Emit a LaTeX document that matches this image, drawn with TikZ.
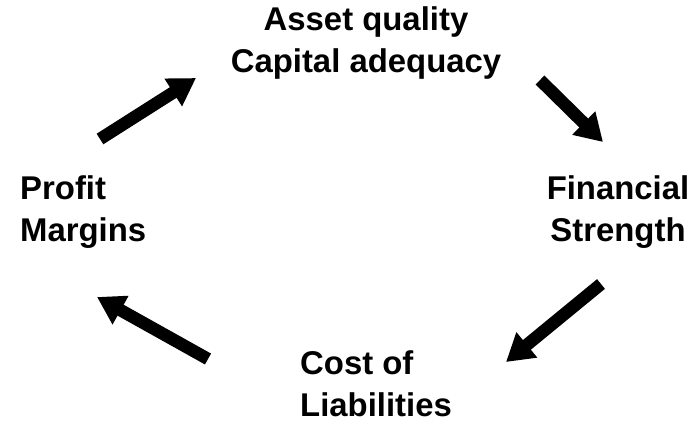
\documentclass[tikz,border=0pt]{standalone}
\usepackage{fontspec}
\setmainfont{Liberation Sans}
\usetikzlibrary{arrows.meta}
\begin{document}
\begin{tikzpicture}[x=1bp,y=-1bp,
  label/.style={font=\bfseries\fontsize{33}{42}\selectfont, inner sep=0pt},
  fatarrow/.style={line width=12.5bp, -{Triangle[length=27bp,width=31bp]}}]
  \useasboundingbox[fill=white] (0,0) rectangle (691,426);

  \node[label, align=center] (quality) at (366,43) {Asset quality\\Capital adequacy};
  \node[label, align=center] (strength) at (618,212) {Financial\\Strength};
  \node[label, align=left, anchor=west] (margins) at (20,212) {Profit\\Margins};
  \node[label, align=left, anchor=west] (liab) at (300,384) {Cost of\\Liabilities};

  \coordinate (a1s) at (100,139);  \coordinate (a1e) at (196,78);
  \coordinate (a2s) at (540,80);   \coordinate (a2e) at (603,142);
  \coordinate (a3s) at (601,284);  \coordinate (a3e) at (506,362);
  \coordinate (a4s) at (208,359);  \coordinate (a4e) at (97,297);

  \draw[fatarrow] (a1s) -- (a1e);
  \draw[fatarrow] (a2s) -- (a2e);
  \draw[fatarrow] (a3s) -- (a3e);
  \draw[fatarrow] (a4s) -- (a4e);
\end{tikzpicture}
\end{document}
